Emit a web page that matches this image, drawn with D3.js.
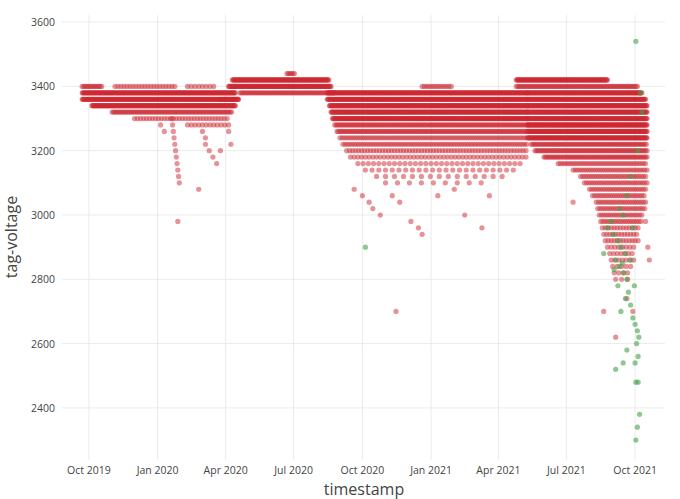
<!DOCTYPE html>
<html><head><meta charset="utf-8">
<script src="https://cdn.jsdelivr.net/npm/d3@7"></script>
<style>body{margin:0;background:#fff;font-family:"Open Sans",sans-serif;}</style>
</head><body><svg id="c" width="680" height="499"></svg>
<script>
// bands of readings: [voltage, first day, last day, spacing in days]
const redBands = [
  [3400,"2019-09-22","2019-10-18",2],[3400,"2019-11-05","2020-01-25",4],[3400,"2020-02-10","2020-03-20",5],
  [3380,"2019-09-22","2020-04-14",1],[3360,"2019-09-22","2020-04-18",1],
  [3340,"2019-10-05","2020-04-14",1],[3320,"2019-11-01","2020-04-10",2],
  [3300,"2019-12-01","2020-04-05",4],[3280,"2020-02-10","2020-04-05",5],
  [3420,"2020-04-10","2020-08-17",1],[3400,"2020-04-05","2020-08-20",1],
  [3380,"2020-04-20","2020-08-25",2],[3360,"2020-03-25","2020-04-20",3],[3440,"2020-06-22","2020-07-02",2],
  [3380,"2020-08-15","2021-05-10",1],[3360,"2020-08-15","2021-05-10",1],[3340,"2020-08-18","2021-05-10",1],
  [3320,"2020-08-20","2021-05-10",1],[3300,"2020-08-22","2021-05-10",1],[3280,"2020-08-25","2021-05-10",2],
  [3260,"2020-08-28","2021-05-10",2],[3240,"2020-09-01","2021-05-10",3],[3220,"2020-09-05","2021-05-10",3],
  [3200,"2020-09-10","2021-05-10",4],[3180,"2020-09-15","2021-05-10",5],[3160,"2020-09-25","2021-05-05",7],
  [3140,"2020-10-05","2021-04-25",9],[3120,"2020-10-20","2021-04-10",12],[3100,"2020-11-01","2021-03-20",16],
  [3400,"2020-12-20","2021-01-30",3],[3400,"2021-04-25","2021-10-05",2],[3420,"2021-04-25","2021-08-25",1],
  [3380,"2021-05-10","2021-10-10",1],[3360,"2021-05-10","2021-10-15",1],[3340,"2021-05-10","2021-10-17",1],
  [3320,"2021-05-10","2021-10-17",1],[3300,"2021-05-10","2021-10-17",1],[3280,"2021-05-10","2021-10-17",1],
  [3260,"2021-05-10","2021-10-17",1],[3240,"2021-05-10","2021-10-17",1],[3220,"2021-05-15","2021-10-17",2],
  [3200,"2021-05-20","2021-10-17",2],[3180,"2021-06-01","2021-10-17",2],[3160,"2021-06-20","2021-10-17",3],
  [3140,"2021-07-10","2021-10-17",3],[3120,"2021-07-20","2021-10-17",3],[3100,"2021-07-25","2021-10-17",3],
  [3080,"2021-08-01","2021-10-15",3],[3060,"2021-08-05","2021-10-15",3],[3040,"2021-08-10","2021-10-15",3],
  [3020,"2021-08-12","2021-10-14",3],[3000,"2021-08-14","2021-10-12",3],[2980,"2021-08-16","2021-10-10",3],
  [2960,"2021-08-18","2021-10-08",4],[2940,"2021-08-20","2021-10-05",4],[2920,"2021-08-22","2021-10-05",4],
  [2900,"2021-08-25","2021-10-03",5],[2880,"2021-08-28","2021-10-01",5],[2860,"2021-08-30","2021-09-30",5],
  [2840,"2021-09-01","2021-09-28",6],[2820,"2021-09-03","2021-09-25",6],[2800,"2021-09-05","2021-09-22",8]
];
const redPoints = [
  ["2020-01-20",3300],["2020-01-21",3280],["2020-01-22",3260],["2020-01-23",3240],["2020-01-24",3220],
  ["2020-01-25",3200],["2020-01-26",3180],["2020-01-27",3160],["2020-01-28",3140],["2020-01-29",3120],
  ["2020-01-30",3100],["2020-01-28",2980],["2020-01-10",3260],["2020-01-05",3280],
  ["2020-03-01",3260],["2020-03-05",3240],["2020-03-10",3200],["2020-03-15",3180],["2020-03-20",3160],
  ["2020-03-25",3200],["2020-02-25",3080],["2020-03-05",3220],["2020-04-05",3260],["2020-04-08",3220],
  ["2020-09-20",3080],["2020-10-01",3060],["2020-10-10",3040],["2020-10-15",3020],["2020-10-25",3000],
  ["2020-11-10",3060],["2020-11-20",3040],["2020-12-05",2980],["2020-12-15",2960],["2020-12-20",2940],
  ["2021-01-10",3060],["2021-02-01",3080],["2021-02-15",3000],["2021-03-10",2960],["2021-03-20",3060],
  ["2020-11-15",2700],["2021-07-10",3040],["2021-08-20",2700],["2021-09-05",2620],["2021-10-20",2860],
  ["2021-10-15",2980],["2021-10-18",2900],["2021-09-20",2740],["2021-09-28",2700]
];
const greenPoints = [
  ["2021-10-02",3540],["2021-10-08",3380],["2021-10-10",3320],["2021-10-05",3200],["2021-09-25",3120],
  ["2021-09-20",3060],["2021-09-10",3020],["2021-09-15",3000],["2021-08-25",2960],["2021-09-02",2940],
  ["2021-09-08",2920],["2021-09-12",2900],["2021-09-18",2880],["2021-09-05",2860],["2021-09-14",2850],
  ["2021-09-10",2840],["2021-09-16",2820],["2021-09-20",2800],["2021-09-08",2780],["2021-09-22",2760],
  ["2021-09-18",2740],["2021-09-25",2720],["2021-09-12",2700],["2021-09-28",2680],["2021-10-01",2660],
  ["2021-10-04",2640],["2021-10-03",2600],["2021-09-20",2580],["2021-10-05",2560],["2021-09-15",2540],
  ["2021-10-01",2540],["2021-10-02",2480],["2021-10-05",2480],["2021-10-07",2380],["2021-10-04",2340],
  ["2021-10-02",2300],["2020-10-05",2900],["2021-08-20",2880],["2021-09-03",2830],["2021-09-25",2860],
  ["2021-09-30",2780],["2021-10-06",2620],["2021-09-05",2520],["2021-09-28",2960],["2021-08-30",2980]
];
const xTicks = ["2019-10-01","2020-01-01","2020-04-01","2020-07-01","2020-10-01","2021-01-01","2021-04-01","2021-07-01","2021-10-01"];
const yTicks = [2400,2600,2800,3000,3200,3400,3600];

const parse = d3.utcParse("%Y-%m-%d");
const svg = d3.select("#c");
const x = d3.scaleUtc().domain([parse("2019-08-26"), parse("2021-11-10")]).range([62, 665]);
const y = d3.scaleLinear().domain([2238, 3622]).range([460, 15]);

// grid
svg.append("g").selectAll("line").data(yTicks).join("line")
  .attr("x1", 62).attr("x2", 665).attr("y1", d => y(d)).attr("y2", d => y(d)).attr("stroke", "#ebebeb");
svg.append("g").selectAll("line").data(xTicks).join("line")
  .attr("y1", 15).attr("y2", 460).attr("x1", d => x(parse(d))).attr("x2", d => x(parse(d))).attr("stroke", "#ebebeb");

// expand bands into daily readings
const red = [];
redBands.forEach(([v, s, e, step]) => {
  d3.utcDay.range(parse(s), d3.utcDay.offset(parse(e), 1), step).forEach(t => red.push([t, v]));
});
redPoints.forEach(([d, v]) => red.push([parse(d), v]));

svg.append("g").selectAll("circle").data(red).join("circle")
  .attr("cx", d => x(d[0])).attr("cy", d => y(d[1])).attr("r", 2.6)
  .attr("fill", "rgb(205,40,50)").attr("fill-opacity", 0.5);
svg.append("g").selectAll("circle").data(greenPoints).join("circle")
  .attr("cx", d => x(parse(d[0]))).attr("cy", d => y(d[1])).attr("r", 2.6)
  .attr("fill", "rgb(70,160,70)").attr("fill-opacity", 0.6);

// axes
const fmt = d3.utcFormat("%b %Y");
svg.append("g").selectAll("text").data(xTicks).join("text")
  .attr("x", d => x(parse(d))).attr("y", 474).attr("text-anchor", "middle")
  .attr("font-size", 10.5).attr("fill", "#444").text(d => fmt(parse(d)));
svg.append("g").selectAll("text").data(yTicks).join("text")
  .attr("x", 55).attr("y", d => y(d) + 4).attr("text-anchor", "end")
  .attr("font-size", 10.5).attr("fill", "#444").text(d => d);
svg.append("text").attr("x", 364).attr("y", 495).attr("text-anchor", "middle")
  .attr("font-size", 16).attr("fill", "#444").text("timestamp");
svg.append("text").attr("transform", "translate(17,237) rotate(-90)").attr("text-anchor", "middle")
  .attr("font-size", 16).attr("fill", "#444").text("tag-voltage");
</script></body></html>
